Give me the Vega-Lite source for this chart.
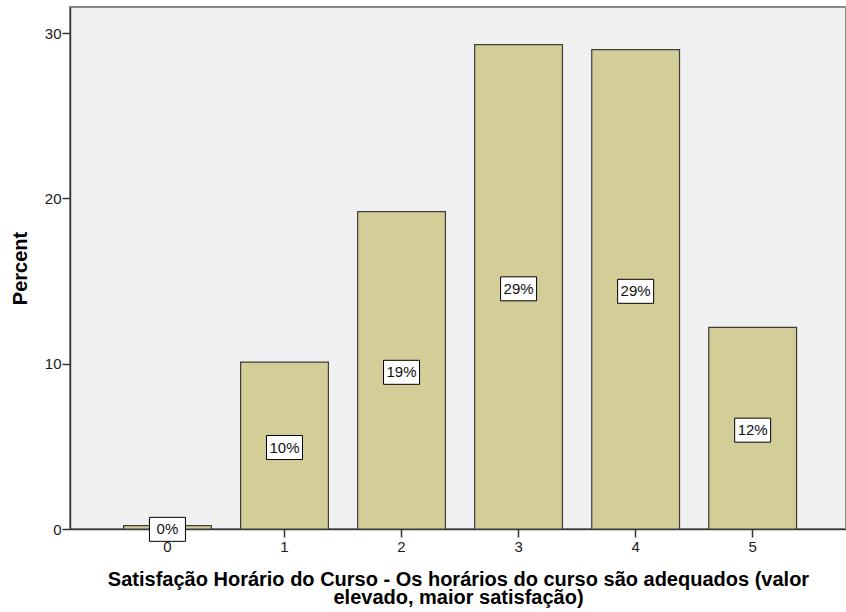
{
  "$schema": "https://vega.github.io/schema/vega-lite/v6.json",
  "width": 776,
  "height": 522,
  "autosize": {"type": "none"},
  "padding": {"left": 70, "right": 0, "top": 7, "bottom": 83},
  "background": "#ffffff",
  "config": {
    "view": {"fill": "#F0F0F0", "stroke": "#8a8a8a", "strokeWidth": 2},
    "font": "Liberation Sans"
  },
  "data": {
    "values": [
      {"cat": "0", "pct": 0.2, "label": "0%"},
      {"cat": "1", "pct": 10.1, "label": "10%"},
      {"cat": "2", "pct": 19.2, "label": "19%"},
      {"cat": "3", "pct": 29.3, "label": "29%"},
      {"cat": "4", "pct": 29.0, "label": "29%"},
      {"cat": "5", "pct": 12.2, "label": "12%"}
    ]
  },
  "encoding": {
    "x": {
      "field": "cat",
      "type": "ordinal",
      "sort": null,
      "scale": {"paddingInner": 0.25, "paddingOuter": 0.44, "align": 0.52},
      "axis": {
        "title": ["Satisfação Horário do Curso - Os horários do curso são adequados (valor", "elevado, maior satisfação)"],
        "titleFont": "Liberation Sans",
        "titleFontSize": 20,
        "titleFontWeight": "bold",
        "titleColor": "#000000",
        "titleLineHeight": 18,
        "titlePadding": 15,
        "labelAngle": 0,
        "labelFont": "Liberation Sans",
        "labelFontSize": 15,
        "labelColor": "#1a1a1a",
        "labelPadding": 2,
        "tickSize": 8,
        "tickColor": "#333333",
        "tickWidth": 1.5,
        "domainColor": "#3a3a3a",
        "domainWidth": 1.5,
        "grid": false
      }
    }
  },
  "layer": [
    {
      "mark": {"type": "bar", "fill": "#D3CE97", "stroke": "#3c3c3c", "strokeWidth": 1.2},
      "encoding": {
        "y": {
          "field": "pct",
          "type": "quantitative",
          "scale": {"domain": [0, 31.58], "nice": false, "zero": true},
          "axis": {
            "title": "Percent",
            "titleFont": "Liberation Sans",
            "titleFontSize": 20,
            "titleFontWeight": "bold",
            "titleColor": "#000000",
            "titlePadding": 14,
            "values": [0, 10, 20, 30],
            "labelFont": "Liberation Sans",
            "labelFontSize": 15,
            "labelColor": "#1a1a1a",
            "labelPadding": 1,
            "tickSize": 8,
            "tickColor": "#333333",
            "tickWidth": 1.5,
            "domainColor": "#3a3a3a",
            "domainWidth": 1.5,
            "grid": false
          }
        }
      }
    },
    {
      "encoding": {
        "y": {
          "field": "pct",
          "type": "quantitative",
          "scale": {"domain": [0, 63.16], "nice": false, "zero": true},
          "axis": null
        }
      },
      "layer": [
        {
          "mark": {
            "type": "point",
            "shape": "M-1.8,-1.2H1.8V1.2H-1.8Z",
            "size": 400,
            "filled": true,
            "fill": "#ffffff",
            "fillOpacity": 1,
            "stroke": "#000000",
            "strokeWidth": 1,
            "opacity": 1,
            "yOffset": 2
          }
        },
        {
          "mark": {
            "type": "text",
            "font": "Liberation Sans",
            "fontSize": 15,
            "color": "#111111",
            "align": "center",
            "baseline": "middle",
            "yOffset": 2
          },
          "encoding": {"text": {"field": "label"}}
        }
      ]
    }
  ],
  "resolve": {"scale": {"y": "independent"}}
}
